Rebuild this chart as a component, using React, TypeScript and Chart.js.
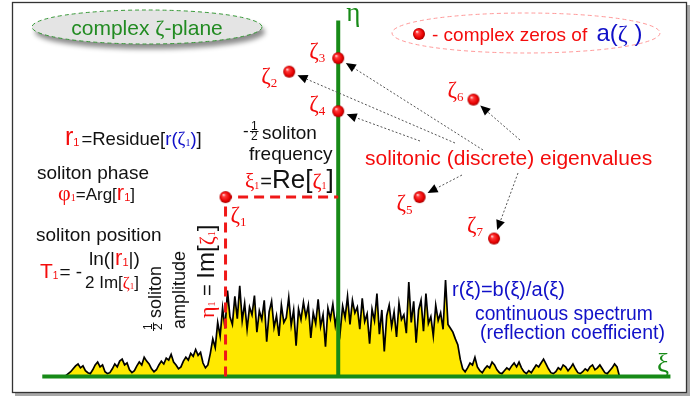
import React, { useEffect, useRef } from "react";
import { Chart, registerables } from "chart.js";
Chart.register(...registerables);

const W = 699;
const H = 398;

// complex plane ranges (arbitrary units)
const XI_MIN = -33.8;
const XI_MAX = 36.1;
const ETA_MIN = -1.5;
const ETA_MAX = 38.3;

// continuous spectrum |r(xi)| samples
const spectrumStart = -27.8;
const spectrumStep = 0.25;
const spectrumHeights = [
  0.1, 0.3, 0.5, 0.8, 1.1, 1.3, 0.9, 1.1, 0.6, 0.4,
  0.3, 0.7, 1.2, 1.5, 1.0, 1.2, 0.5, 0.3, 0.4, 0.8,
  1.3, 1.0, 1.6, 1.8, 1.2, 1.4, 0.7, 0.4, 0.6, 1.1,
  1.5, 1.2, 2.0, 1.6, 1.3, 0.8, 0.5, 0.7, 1.2, 1.6,
  1.3, 1.9, 1.7, 2.3, 1.5, 1.2, 0.8, 1.0, 1.6, 2.0,
  1.7, 2.4, 2.1, 2.8, 2.2, 2.5, 1.4, 0.9, 1.2, 2.4,
  3.9, 3.0, 5.6, 4.2, 7.1, 5.0, 8.9, 6.2, 5.4, 8.3,
  6.0, 9.4, 5.8, 7.6, 4.9, 7.2, 6.4, 8.4, 4.6, 6.8,
  5.9, 7.9, 3.6, 6.7, 7.8, 5.1, 6.3, 4.2, 7.4, 5.6,
  6.1, 8.2, 5.3, 6.9, 3.2, 7.0, 5.9, 7.7, 6.2, 7.4,
  4.0, 6.6, 5.5, 8.0, 5.2, 6.4, 3.1, 7.1, 6.0, 7.5,
  5.3, 6.8, 4.6, 7.3, 6.1, 8.3, 5.4, 7.9, 6.6, 7.2,
  4.9, 8.1, 5.7, 6.5, 3.4, 7.0, 5.8, 8.6, 4.4, 6.9,
  2.6, 6.3, 7.4, 5.2, 6.7, 4.1, 7.6, 5.9, 6.4, 4.5,
  9.8, 5.6, 7.8, 3.5, 6.9, 7.9, 4.7, 8.6, 5.5, 6.2,
  4.2, 7.4, 5.8, 6.6, 4.9, 10.0, 5.4, 5.0, 4.6, 3.9,
  3.3, 1.8, 0.8, 0.5, 0.9, 1.4, 1.2, 2.0, 1.0, 0.6,
  0.4, 0.8, 1.1, 0.9, 1.5, 1.2, 0.7, 0.4, 0.3, 0.6,
  0.9, 0.7, 1.1, 1.4, 1.0, 1.5, 0.9, 0.5, 0.3, 0.6,
  0.4, 0.8, 1.2, 1.0, 1.4, 1.8, 1.3, 0.8, 0.4, 0.3,
  0.5, 0.9, 0.7, 1.2, 1.0, 0.6, 0.9, 1.3, 0.8, 0.4,
  0.3, 0.5, 0.8, 0.6, 1.0, 1.2, 0.7, 0.9, 1.2, 0.8,
  0.4, 0.3, 0.6, 0.9, 1.3, 1.0, 0.0,
];

// discrete eigenvalues (complex zeros of a(zeta))
const zeroNames = ["1", "2", "3", "4", "5", "6", "7"];
const zeroXi = [-11.5, -5.0, 0.0, 0.0, 8.3, 13.8, 15.9];
const zeroEta = [18.6, 31.6, 33.0, 27.5, 18.6, 28.7, 14.3];

// axes extents
const xiAxisRange = [-30.2, 33.9];
const etaAxisRange = [0, 36.9];

const SANS = '"Liberation Sans", Arial, sans-serif';
const SERIF = '"Liberation Serif", "Times New Roman", serif';
const RED = "#f40c0c";
const BLUE = "#1010c8";
const GREEN = "#178a17";
const GREEN_TXT = "#228b22";

type Run = { t: string; c: string; f: string; dy?: number; dx?: number };

function drawRuns(ctx: CanvasRenderingContext2D, x: number, y: number, list: Run[], align: "left" | "center" = "left") {
  let total = 0;
  for (const r of list) {
    ctx.font = r.f;
    total += ctx.measureText(r.t).width + (r.dx || 0);
  }
  let cx = align === "center" ? x - total / 2 : x;
  ctx.textAlign = "left";
  ctx.textBaseline = "alphabetic";
  for (const r of list) {
    ctx.font = r.f;
    ctx.fillStyle = r.c;
    cx += r.dx || 0;
    ctx.fillText(r.t, cx, y + (r.dy || 0));
    cx += ctx.measureText(r.t).width;
  }
  return cx;
}

function half(ctx: CanvasRenderingContext2D, x: number, y: number, color: string) {
  ctx.font = `12px ${SANS}`;
  ctx.fillStyle = color;
  ctx.textAlign = "left";
  ctx.fillText("1", x + 1, y - 9);
  ctx.fillText("2", x + 1, y + 1);
  ctx.strokeStyle = color;
  ctx.lineWidth = 1;
  ctx.beginPath();
  ctx.moveTo(x, y - 7.5);
  ctx.lineTo(x + 8.5, y - 7.5);
  ctx.stroke();
}

function makeSphere(r: number) {
  const c = document.createElement("canvas");
  const s = Math.ceil(r * 2 + 2);
  c.width = s;
  c.height = s;
  const g = c.getContext("2d")!;
  const cx = s / 2;
  const cy = s / 2;
  const grad = g.createRadialGradient(cx - r * 0.35, cy - r * 0.4, r * 0.05, cx, cy, r);
  grad.addColorStop(0, "#ffe0e0");
  grad.addColorStop(0.25, "#ff3a3a");
  grad.addColorStop(0.75, "#e80000");
  grad.addColorStop(1, "#a00000");
  g.fillStyle = grad;
  g.beginPath();
  g.arc(cx, cy, r, 0, Math.PI * 2);
  g.fill();
  return c;
}

function arrow(ctx: CanvasRenderingContext2D, x0: number, y0: number, x1: number, y1: number, stop = 9) {
  const dx = x1 - x0;
  const dy = y1 - y0;
  const L = Math.hypot(dx, dy);
  const ux = dx / L;
  const uy = dy / L;
  const tx = x1 - ux * stop;
  const ty = y1 - uy * stop;
  const hl = 10;
  const hw = 4.5;
  const bx = tx - ux * hl;
  const by = ty - uy * hl;
  ctx.save();
  ctx.setLineDash([2, 2]);
  ctx.strokeStyle = "#555";
  ctx.lineWidth = 1;
  ctx.beginPath();
  ctx.moveTo(x0, y0);
  ctx.lineTo(bx, by);
  ctx.stroke();
  ctx.setLineDash([]);
  ctx.fillStyle = "#000";
  ctx.beginPath();
  ctx.moveTo(tx, ty);
  ctx.lineTo(bx - uy * hw, by + ux * hw);
  ctx.lineTo(bx + uy * hw, by - ux * hw);
  ctx.closePath();
  ctx.fill();
  ctx.restore();
}

// label offsets of the zero names relative to each sphere (px)
const labelOffsets: [number, number][] = [
  [5, 25], [-28, 11], [-29, 0], [-29, 0], [-23, 13], [-26, -3], [-27, -7],
];
// arrow start points (near the "solitonic eigenvalues" caption) per zero index
const arrowStarts: Record<number, [number, number]> = {
  1: [455, 143], 2: [483, 150], 3: [420, 141], 5: [520, 140], 4: [462, 175], 6: [518, 173],
};

export default function App() {
  const ref = useRef<HTMLCanvasElement | null>(null);
  useEffect(() => {
    const canvas = ref.current;
    if (!canvas) return;
    const sphere = makeSphere(6);

    const decor = {
      id: "decor",
      beforeDraw(chart: any) {
        const ctx: CanvasRenderingContext2D = chart.ctx;
        ctx.save();
        ctx.fillStyle = "#fff";
        ctx.fillRect(0, 0, W, H);
        // frame with shadow
        ctx.fillStyle = "#a8a8a8";
        ctx.fillRect(15, 5, 675, 391);
        ctx.fillStyle = "#fff";
        ctx.fillRect(12, 2, 675, 391);
        ctx.strokeStyle = "#333";
        ctx.lineWidth = 1.3;
        ctx.strokeRect(12.5, 2.5, 674, 390);
        // green ellipse with shadow
        ctx.save();
        ctx.shadowColor = "rgba(0,0,0,0.45)";
        ctx.shadowBlur = 5;
        ctx.shadowOffsetX = 3;
        ctx.shadowOffsetY = 5;
        ctx.fillStyle = "#e4e4e4";
        ctx.beginPath();
        ctx.ellipse(147, 27, 115, 17, 0, 0, Math.PI * 2);
        ctx.fill();
        ctx.restore();
        ctx.setLineDash([4, 3]);
        ctx.strokeStyle = "#3a9a3a";
        ctx.lineWidth = 1;
        ctx.beginPath();
        ctx.ellipse(147, 27, 115, 17, 0, 0, Math.PI * 2);
        ctx.stroke();
        // red ellipse
        ctx.strokeStyle = "#ff9a9a";
        ctx.beginPath();
        ctx.ellipse(526, 33, 134, 20, 0, 0, Math.PI * 2);
        ctx.stroke();
        ctx.setLineDash([]);
        ctx.restore();
      },
      afterDatasetsDraw(chart: any) {
        const ctx: CanvasRenderingContext2D = chart.ctx;
        const xs = chart.scales.x;
        const ys = chart.scales.y;
        ctx.save();
        // texts in ellipses
        drawRuns(ctx, 147, 35, [
          { t: "complex ", c: GREEN_TXT, f: `21px ${SANS}` },
          { t: "\u03b6", c: GREEN_TXT, f: `22px ${SERIF}` },
          { t: "-plane", c: GREEN_TXT, f: `21px ${SANS}` },
        ], "center");
        ctx.drawImage(sphere, 419 - sphere.width / 2, 34 - sphere.height / 2);
        const e = drawRuns(ctx, 432, 41, [{ t: "- complex zeros of ", c: RED, f: `19px ${SANS}` }]);
        drawRuns(ctx, e + 4, 41, [
          { t: "a(", c: BLUE, f: `24px ${SANS}` },
          { t: "\u03b6", c: BLUE, f: `24px ${SERIF}` },
          { t: " )", c: BLUE, f: `24px ${SANS}` },
        ]);
        // axis labels
        drawRuns(ctx, xs.getPixelForValue(0) + 8, 21, [{ t: "\u03b7", c: GREEN, f: `27px ${SERIF}` }]);
        drawRuns(ctx, 657, 372, [{ t: "\u03be", c: GREEN, f: `27px ${SERIF}` }]);

        // left text block
        drawRuns(ctx, 65, 145, [
          { t: "r", c: RED, f: `25px ${SANS}` },
          { t: "1", c: RED, f: `11px ${SANS}`, dy: 1 },
          { t: "=Residue[", c: "#111", f: `18.5px ${SANS}`, dx: 2 },
          { t: "r(", c: BLUE, f: `18.5px ${SANS}` },
          { t: "\u03b6", c: BLUE, f: `19px ${SERIF}` },
          { t: "1", c: BLUE, f: `10px ${SERIF}`, dy: 1 },
          { t: ")", c: BLUE, f: `18.5px ${SANS}` },
          { t: "]", c: "#111", f: `18.5px ${SANS}` },
        ]);
        drawRuns(ctx, 37, 179, [{ t: "soliton phase", c: "#111", f: `19px ${SANS}` }]);
        drawRuns(ctx, 58, 200, [
          { t: "\u03c6", c: RED, f: `22px ${SERIF}` },
          { t: "1", c: RED, f: `10px ${SERIF}`, dy: 1 },
          { t: "=Arg[", c: "#111", f: `17px ${SANS}` },
          { t: "r", c: RED, f: `22px ${SANS}` },
          { t: "1", c: RED, f: `11px ${SANS}`, dy: 1 },
          { t: "]", c: "#111", f: `17px ${SANS}` },
        ]);
        drawRuns(ctx, 36, 241, [{ t: "soliton position", c: "#111", f: `19px ${SANS}` }]);
        drawRuns(ctx, 40, 278, [
          { t: "T", c: RED, f: `21px ${SANS}` },
          { t: "1", c: RED, f: `10px ${SANS}`, dy: 1 },
          { t: "= -", c: "#111", f: `19px ${SANS}`, dx: 1 },
        ]);
        drawRuns(ctx, 89, 265, [
          { t: "ln(|", c: "#111", f: `19px ${SANS}` },
          { t: "r", c: RED, f: `22px ${SANS}` },
          { t: "1", c: RED, f: `11px ${SANS}`, dy: 1 },
          { t: "|)", c: "#111", f: `19px ${SANS}` },
        ]);
        drawRuns(ctx, 85, 288, [
          { t: "2 Im[", c: "#111", f: `17px ${SANS}` },
          { t: "\u03b6", c: RED, f: `17px ${SERIF}` },
          { t: "1", c: RED, f: `9px ${SERIF}`, dy: 1 },
          { t: "]", c: "#111", f: `17px ${SANS}` },
        ]);

        // rotated amplitude annotation
        ctx.save();
        ctx.translate(161, 331);
        ctx.rotate(-Math.PI / 2);
        half(ctx, 0, 0, "#111");
        drawRuns(ctx, 13, 0, [{ t: "soliton", c: "#111", f: `18px ${SANS}` }]);
        ctx.restore();
        ctx.save();
        ctx.translate(185, 329);
        ctx.rotate(-Math.PI / 2);
        drawRuns(ctx, 0, 0, [{ t: "amplitude", c: "#111", f: `18px ${SANS}` }]);
        ctx.restore();
        ctx.save();
        ctx.translate(214, 318);
        ctx.rotate(-Math.PI / 2);
        drawRuns(ctx, 0, 0, [
          { t: "\u03b7", c: RED, f: `22px ${SERIF}` },
          { t: "1", c: RED, f: `10px ${SERIF}`, dy: 1 },
          { t: " = ", c: "#111", f: `20px ${SANS}` },
          { t: "Im[", c: "#111", f: `24px ${SANS}` },
          { t: "\u03b6", c: RED, f: `22px ${SERIF}` },
          { t: "1", c: RED, f: `10px ${SERIF}`, dy: 1 },
          { t: "]", c: "#111", f: `24px ${SANS}` },
        ]);
        ctx.restore();

        // frequency annotation
        drawRuns(ctx, 243, 136, [{ t: "-", c: "#111", f: `17px ${SANS}` }]);
        half(ctx, 250, 139, "#111");
        drawRuns(ctx, 262, 139, [{ t: "soliton", c: "#111", f: `19px ${SANS}` }]);
        drawRuns(ctx, 249, 160, [{ t: "frequency", c: "#111", f: `19px ${SANS}` }]);
        drawRuns(ctx, 245, 188, [
          { t: "\u03be", c: RED, f: `21px ${SERIF}` },
          { t: "1", c: RED, f: `10px ${SERIF}`, dy: 1 },
          { t: "=", c: "#111", f: `20px ${SANS}`, dx: 1 },
          { t: "Re[", c: "#111", f: `26px ${SANS}` },
          { t: "\u03b6", c: RED, f: `22px ${SERIF}` },
          { t: "1", c: RED, f: `10px ${SERIF}`, dy: 1 },
          { t: "]", c: "#111", f: `26px ${SANS}` },
        ]);

        // caption
        drawRuns(ctx, 365, 165, [{ t: "solitonic (discrete) eigenvalues", c: RED, f: `21px ${SANS}` }]);
        // continuous spectrum texts
        drawRuns(ctx, 452, 296, [{ t: "r(\u03be)=b(\u03be)/a(\u03be)", c: BLUE, f: `20px ${SANS}` }]);
        drawRuns(ctx, 475, 320, [{ t: "continuous spectrum", c: BLUE, f: `19.3px ${SANS}` }]);
        drawRuns(ctx, 480, 339, [{ t: "(reflection coefficient)", c: BLUE, f: `19.5px ${SANS}` }]);

        // zero labels and arrows
        for (let i = 0; i < zeroNames.length; i++) {
          const px = xs.getPixelForValue(zeroXi[i]);
          const py = ys.getPixelForValue(zeroEta[i]);
          const [ox, oy] = labelOffsets[i];
          drawRuns(ctx, px + ox, py + oy, [
            { t: "\u03b6", c: RED, f: `23px ${SERIF}` },
            { t: zeroNames[i], c: RED, f: `13px ${SERIF}`, dy: 4 },
          ]);
          const s = arrowStarts[i];
          if (s) arrow(ctx, s[0], s[1], px, py);
        }
        ctx.restore();
      },
    };

    const spectrum = spectrumHeights.map((h, i) => ({ x: spectrumStart + i * spectrumStep, y: h }));
    const zeros = zeroXi.map((x, i) => ({ x, y: zeroEta[i] }));
    const z1 = zeros[0];

    const chart = new Chart(canvas, {
      type: "scatter",
      data: {
        datasets: [
          {
            data: zeros,
            pointStyle: sphere as any,
            pointRadius: 6,
            showLine: false,
          },
          {
            data: [{ x: z1.x, y: 0 }, { x: z1.x, y: z1.y }, { x: 0, y: z1.y }],
            showLine: true,
            borderColor: "#f01818",
            borderWidth: 3,
            borderDash: [10, 6],
            pointRadius: 0,
          },
          {
            data: [{ x: 0, y: etaAxisRange[0] }, { x: 0, y: etaAxisRange[1] }],
            showLine: true,
            borderColor: GREEN,
            borderWidth: 4,
            pointRadius: 0,
          },
          {
            data: [{ x: xiAxisRange[0], y: 0 }, { x: xiAxisRange[1], y: 0 }],
            showLine: true,
            borderColor: GREEN,
            borderWidth: 4,
            pointRadius: 0,
          },
          {
            data: spectrum,
            showLine: true,
            borderColor: "#000",
            borderWidth: 1.7,
            backgroundColor: "#ffe900",
            fill: "origin",
            pointRadius: 0,
            tension: 0,
          },
        ] as any,
      },
      options: {
        animation: false,
        responsive: false,
        devicePixelRatio: 1,
        events: [],
        layout: { padding: 0 },
        plugins: { legend: { display: false }, tooltip: { enabled: false } },
        scales: {
          x: { type: "linear", min: XI_MIN, max: XI_MAX, display: false },
          y: { type: "linear", min: ETA_MIN, max: ETA_MAX, display: false },
        },
      } as any,
      plugins: [decor],
    });
    return () => chart.destroy();
  }, []);

  return (
    <div style={{ position: "absolute", left: 0, top: 0, width: W, height: H, background: "#fff" }}>
      <canvas ref={ref} width={W} height={H} style={{ display: "block", width: W, height: H }} />
    </div>
  );
}
